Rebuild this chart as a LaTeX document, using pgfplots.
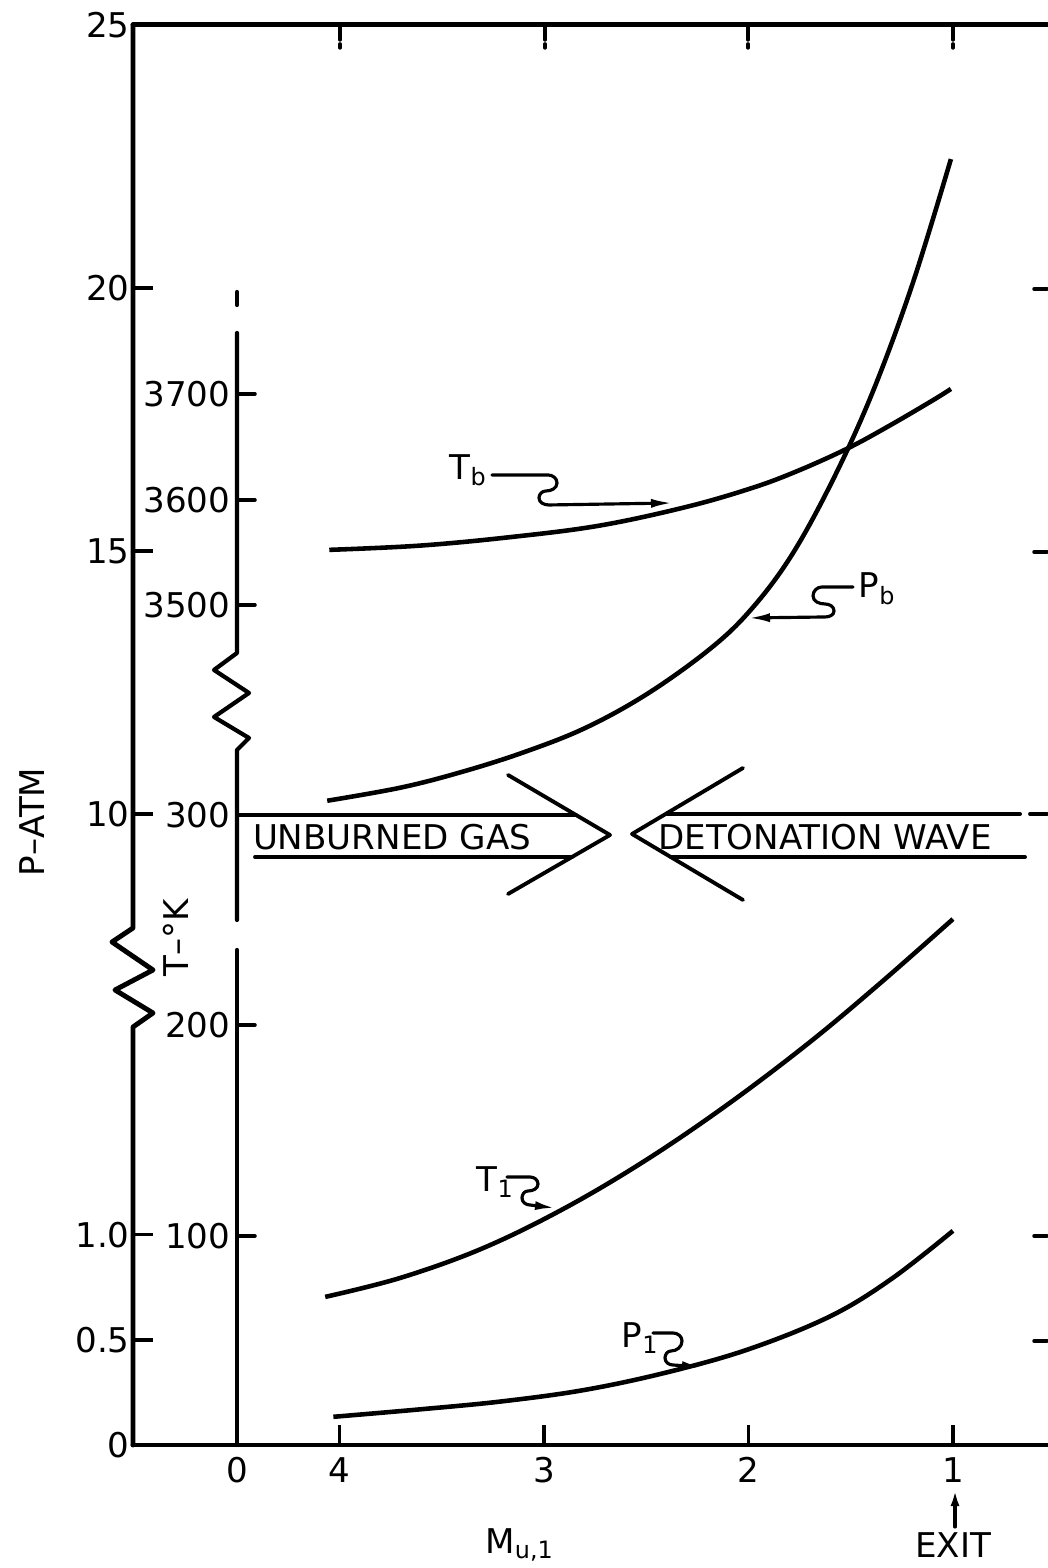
\documentclass[border=0pt]{standalone}
\usepackage{fontspec}
\setmainfont{DejaVu Sans}
\usepackage{pgfplots}
\pgfplotsset{compat=1.18}
\usepackage{pgfplotstable}
\usetikzlibrary{arrows.meta}

% Burned gas temperature T_b (K), upper T scale
\pgfplotstableread{
M T
4.05 3551
3.61 3555
3.17 3563
2.73 3574
2.30 3592
1.98 3610
1.76 3626
1.52 3647
1.32 3668
1.10 3693
1.01 3704
}\Tb
% Burned gas pressure P_b (atm), upper P scale
\pgfplotstableread{
M P
4.06 10.25
3.70 10.50
3.40 10.80
3.10 11.17
2.80 11.63
2.50 12.27
2.20 13.10
2.00 13.83
1.80 14.85
1.60 16.25
1.40 17.95
1.20 20.05
1.01 22.45
}\Pb
% Unburned gas temperature T_1 (K), lower T scale
\pgfplotstableread{
M T
4.07 70.4
3.70 79.5
3.30 93.5
2.90 112.5
2.50 135.5
2.10 162.0
1.70 191.5
1.35 220.0
1.00 250.0
}\Tone
% Unburned gas pressure P_1 (atm), lower P scale
\pgfplotstableread{
M P
4.03 0.134
3.60 0.170
3.20 0.208
2.80 0.262
2.40 0.345
2.00 0.455
1.60 0.612
1.30 0.790
1.00 1.018
}\Pone

\begin{document}
\begin{tikzpicture}[font=\fontsize{9.7}{11.6}\selectfont]
\begin{axis}[
  scale only axis, width=91.4mm, height=142mm,
  x dir=reverse, xmin=0.54, xmax=5.01, ymin=-2, ymax=25,
  axis line style={draw=none},
  xtick={4.5,4,3,2,1}, xticklabels={0,4,3,2,1},
  ytick={-2,0,2,10,15,20,25}, yticklabels={0,0.5,1.0,10,15,20,25},
  xtick pos=left, ytick pos=left,
  tick align=inside,
  major tick length=2mm,
  tick style={black, line width=1pt},
  ticklabel style={font=\fontsize{9.7}{11.6}\selectfont},
  yticklabel style={xshift=0.9mm},
  clip=false,
  curve/.style={black, line width=1.3pt, smooth, tension=0.6, no markers},
]
\addplot[curve] table[x=M, y expr={14+(\thisrow{T}-3500)/50}] {\Tb};
\addplot[curve] table[x=M, y=P] {\Pb};
\addplot[curve] table[x=M, y expr={\thisrow{T}/25-2}] {\Tone};
\addplot[curve] table[x=M, y expr={4*\thisrow{P}-2}] {\Pone};
\end{axis}

\begin{scope}[shift={(current axis.south west)}, x=0.1mm, y=-0.1mm, shift={(-133,-1445)}, line cap=round, line join=round]
% frame lines
\draw[line width=1.4pt] (133,25) -- (1047,25);
\draw[line width=1.4pt] (133,1445) -- (1047,1445);
\draw[line width=1.4pt] (133,25) -- (133,928) -- (112,942) -- (153,970) -- (115,990) -- (153,1013) -- (133,1027) -- (133,1445);
% top ticks
\foreach \px in {340,545,748,953} {
  \draw[line width=1pt] (\px,27) -- (\px,40);
  \draw[line width=1pt] (\px,44) -- (\px,48);
}
% right ticks
\foreach \py in {289,552,1236,1341} {
  \draw[line width=1pt] (1034,\py) -- (1047,\py);
}
% T axis
\draw[line width=1.2pt] (237,292) -- (237,305);
\draw[line width=1.2pt] (237,333) -- (237,653) -- (214,670) -- (249,693) -- (214,717) -- (249,738) -- (237,750) -- (237,920);
\draw[line width=1.2pt] (237,950) -- (237,1445);
\foreach \py/\lab in {394/3700,500/3600,605/3500,1025/200,1236/100} {
  \draw[line width=1pt] (237,\py) -- (255,\py);
  \node[anchor=east, inner sep=0pt] at (231,\py) {\lab};
}
\node[anchor=east, inner sep=0pt] at (231,815) {300};
% arrows
\draw[line width=1.1pt] (237,815) -- (576,815);
\draw[line width=1.1pt] (255,857) -- (572,857);
\draw[line width=1.1pt] (508,775) -- (610,835) -- (508,894);
\draw[line width=1.1pt] (667,814) -- (1020,814);
\draw[line width=1.1pt] (1030,814) -- (1047,814);
\draw[line width=1.1pt] (671,857) -- (1025,857);
\draw[line width=1.1pt] (743,768) -- (632,834) -- (743,900);
\node[anchor=base] at (392,850) {UNBURNED GAS};
\node[anchor=base] at (825,850) {DETONATION WAVE};
% axis titles
\node[rotate=90] at (32,822) {P–ATM};
\node[rotate=90] at (176,938) {T–°K};
\node at (520,1545) {M\textsubscript{u,1}};
\node at (953,1545) {EXIT};
\draw[line width=0.9pt, -{Latex[length=1.6mm,width=0.9mm]}] (955,1527) -- (955,1490);
% curve labels with leaders
\node[anchor=base west, inner sep=0pt] at (449,480) {T\textsubscript{b}};
\draw[line width=0.9pt, -{Latex[length=2.2mm,width=0.9mm]}] (492,475) -- (548,475) to[out=0,in=90] (557,483) to[out=-90,in=0] (546,491) to[out=180,in=90] (539,498) to[out=-90,in=180] (549,505) -- (673,503);
\node[anchor=base west, inner sep=0pt] at (858,598) {P\textsubscript{b}};
\draw[line width=0.9pt, -{Latex[length=2.2mm,width=0.9mm]}] (853,587) -- (822,587) to[out=180,in=90] (813,596) to[out=-90,in=180] (825,604) to[out=0,in=90] (834,611) to[out=-90,in=0] (825,617) -- (748,618);
\node[anchor=base west, inner sep=0pt] at (476,1192) {T\textsubscript{1}};
\draw[line width=0.9pt, -{Latex[length=2mm,width=0.9mm]}] (507,1177) -- (530,1177) to[out=0,in=90] (538,1184) to[out=-90,in=0] (528,1191) to[out=180,in=90] (522,1198) to[out=-90,in=180] (530,1205) -- (555,1208);
\node[anchor=base west, inner sep=0pt] at (621,1348) {P\textsubscript{1}};
\draw[line width=0.9pt, -{Latex[length=2mm,width=0.9mm]}] (653,1333) -- (673,1333) to[out=0,in=90] (682,1341) to[out=-90,in=0] (671,1351) to[out=180,in=90] (665,1358) to[out=-90,in=180] (673,1365) -- (702,1367);
\end{scope}

\pgfresetboundingbox
\path ([shift={(-13.3mm,-12.3mm)}]current axis.south west) rectangle ([shift={(91.4mm,144.5mm)}]current axis.south west);
\end{tikzpicture}
\end{document}
